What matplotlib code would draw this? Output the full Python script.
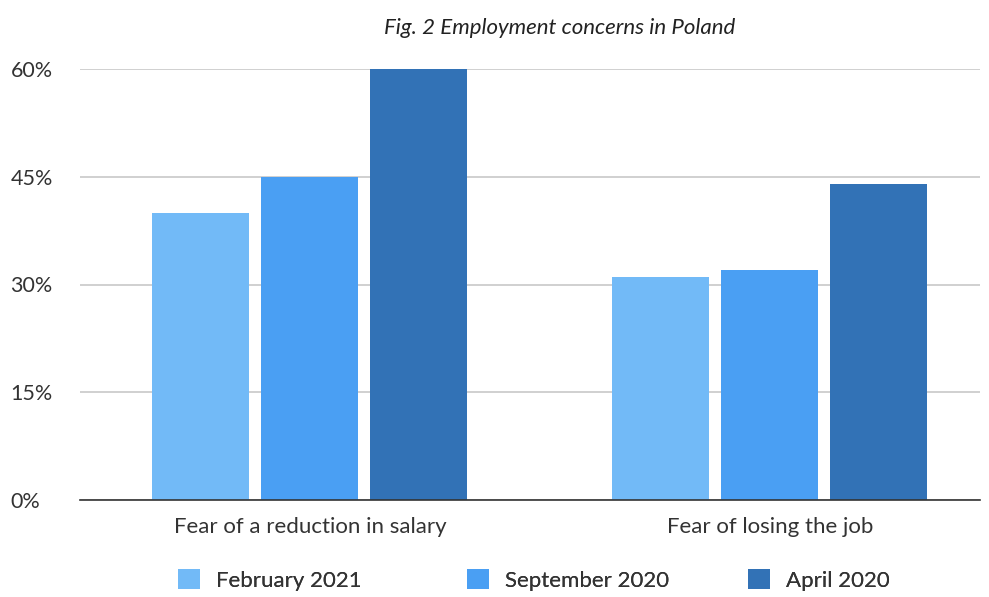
import matplotlib.pyplot as plt
import numpy as np

plt.rcParams['font.family'] = ['Lato', 'DejaVu Sans']

categories = ['Fear of a reduction in salary', 'Fear of losing the job']
series_names = ['February 2021', 'September 2020', 'April 2020']
feb_2021 = [40, 31]
sep_2020 = [45, 32]
apr_2020 = [60, 44]
colors = ['#72baf7', '#4a9ff3', '#3272b6']
yticks = [0, 15, 30, 45, 60]

fig = plt.figure(figsize=(9.89, 5.97), dpi=100)
ax = fig.add_axes([80/989, 1 - 500/597, 900/989, 431/597])

x = np.arange(len(categories))
width = 0.211
offsets = [-0.237, 0, 0.237]
bars = []
for vals, off, c, name in zip([feb_2021, sep_2020, apr_2020], offsets, colors, series_names):
    bars.append(ax.bar(x + off, vals, width, color=c, label=name, zorder=3))

ax.set_ylim(0, 60)
ax.set_xlim(-0.5, 1.457)
ax.set_yticks(yticks)
ax.set_yticklabels([f'{t}%' for t in yticks])
ax.set_xticks(x)
ax.set_xticklabels(categories, fontsize=16)
ax.tick_params(axis='y', length=0, labelsize=15.5, colors='#333333', pad=50)
ax.tick_params(axis='x', length=0, colors='#333333', pad=12)
for lbl in ax.get_yticklabels():
    lbl.set_horizontalalignment('left')
ax.grid(axis='y', color='#c8c8c8', linewidth=1.2, zorder=0)
for s in ['top', 'right', 'left']:
    ax.spines[s].set_visible(False)
ax.spines['bottom'].set_color('#333333')
ax.spines['bottom'].set_linewidth(1.2)
ax.spines['bottom'].set_zorder(4)

fig.text(560/989, 1 - 28/597, 'Fig. 2 Employment concerns in Poland', ha='center', va='center',
         fontsize=16, fontstyle='italic', color='#222222')

# legend entries placed one by one, like the source layout
leg_x = [178, 467, 748]
for b, name, lx in zip(bars, series_names, leg_x):
    leg = fig.legend([b], [name], loc='center left', bbox_to_anchor=(lx/989, 1 - 580/597),
                     frameon=False, fontsize=16, handlelength=1.0, handleheight=1.0,
                     handletextpad=0.7, borderpad=0, borderaxespad=0, labelcolor='#333333')
    fig.add_artist(leg)

fig.savefig('out.png', dpi=100)
